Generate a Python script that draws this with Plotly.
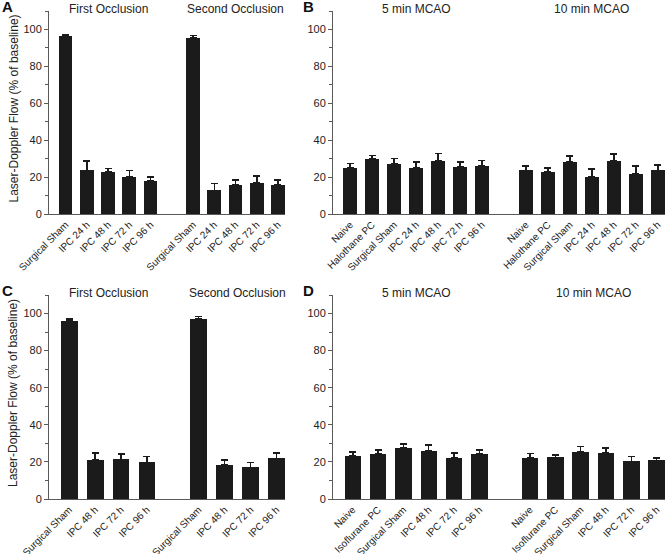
import plotly.graph_objects as go

# ---------------- data ----------------
occl_labels_A = ["Surgical Sham", "IPC 24 h", "IPC 48 h", "IPC 72 h", "IPC 96 h"]
A_first = [96.4, 23.6, 22.7, 20.3, 18.0]
A_first_err = [0.9, 5.0, 1.9, 3.4, 2.0]
A_second = [95.3, 12.8, 15.8, 16.9, 15.6]
A_second_err = [1.5, 3.6, 2.5, 3.6, 2.7]

mcao_labels_B = ["Naive", "Halothane PC", "Surgical Sham", "IPC 24 h", "IPC 48 h", "IPC 72 h", "IPC 96 h"]
B_5min = [25.0, 29.7, 27.0, 24.8, 28.6, 25.4, 25.9]
B_5min_err = [2.5, 2.1, 3.2, 3.3, 4.3, 2.7, 3.2]
B_10min = [23.7, 23.0, 28.4, 20.3, 28.6, 21.9, 23.7]
B_10min_err = [2.4, 1.8, 2.9, 4.0, 3.8, 4.2, 2.9]

occl_labels_C = ["Surgical Sham", "IPC 48 h", "IPC 72 h", "IPC 96 h"]
C_first = [96.0, 21.0, 21.4, 19.8]
C_first_err = [1.1, 3.8, 2.9, 3.0]
C_second = [97.1, 18.3, 17.1, 21.9]
C_second_err = [1.3, 2.7, 2.5, 2.9]

mcao_labels_D = ["Naive", "Isoflurane PC", "Surgical Sham", "IPC 48 h", "IPC 72 h", "IPC 96 h"]
D_5min = [23.4, 24.5, 27.7, 26.1, 22.1, 24.5]
D_5min_err = [2.0, 1.8, 2.0, 3.0, 2.7, 2.0]
D_10min = [22.2, 22.4, 25.3, 24.8, 20.3, 20.8]
D_10min_err = [2.4, 1.3, 2.9, 2.7, 2.5, 1.3]

group_titles_A = ["First Occlusion", "Second Occlusion"]
group_titles_B = ["5 min MCAO", "10 min MCAO"]
y_ticks = [0, 20, 40, 60, 80, 100]
y_title = "Laser-Doppler Flow (% of baseline)"

# ---------------- figure ----------------
W, H = 667, 554
BAR = "#1b1b1b"
AXC = "#5a5a5a"
FONT = "Liberation Sans, Arial, sans-serif"

fig = go.Figure()

panels = [
    ("A", occl_labels_A, A_first, A_first_err, A_second, A_second_err, group_titles_A,
     (49, 285), (11, 214), (7, 6), True),
    ("B", mcao_labels_B, B_5min, B_5min_err, B_10min, B_10min_err, group_titles_B,
     (333, 665), (11, 214), (308, 6), False),
    ("C", occl_labels_C, C_first, C_first_err, C_second, C_second_err, group_titles_A,
     (49, 285), (295, 499), (7, 290), True),
    ("D", mcao_labels_D, D_5min, D_5min_err, D_10min, D_10min_err, group_titles_B,
     (333, 665), (295, 499), (308, 290), False),
]

annotations = []
for i, (name, labels, v1, e1, v2, e2, titles, xd, yd, lpos, ytitle) in enumerate(panels):
    n = len(labels)
    pos1 = list(range(n))
    pos2 = [n + 1 + k for k in range(n)]
    xs = pos1 + pos2
    ys = list(v1) + list(v2)
    errs = list(e1) + list(e2)
    ax = "" if i == 0 else str(i + 1)
    fig.add_trace(go.Bar(
        x=xs, y=ys, width=0.65,
        marker=dict(color=BAR, line=dict(width=0)),
        error_y=dict(type="data", symmetric=False, array=errs,
                     arrayminus=[0] * len(errs), color=BAR, thickness=1.5, width=3.5),
        xaxis="x" + ax, yaxis="y" + ax, showlegend=False, hoverinfo="skip",
    ))
    xdom = [xd[0] / W, xd[1] / W]
    ydom = [1 - yd[1] / H, 1 - yd[0] / H]
    fig.layout["xaxis" + ax] = dict(
        domain=xdom, anchor="y" + ax, range=[-0.78, 2 * n + 0.33],
        tickvals=xs, ticktext=labels + labels, tickangle=-45,
        showline=True, linecolor=AXC, linewidth=1, ticks="",
        showgrid=False, zeroline=False, automargin=False,
        tickfont=dict(family=FONT, size=10, color="#222"),
    )
    fig.layout["yaxis" + ax] = dict(
        domain=ydom, anchor="x" + ax, range=[0, 110],
        tickvals=y_ticks, showline=True, linecolor=AXC, linewidth=1,
        ticks="outside", ticklen=4, tickcolor=AXC, tickwidth=1,
        minor=dict(dtick=10, tick0=0, ticks="outside", ticklen=3, tickcolor=AXC, tickwidth=1),
        showgrid=False, zeroline=False, automargin=False,
        tickfont=dict(family=FONT, size=11, color="#222"),
    )
    for g, t in enumerate(titles):
        cx = (n - 1) / 2 + g * (n + 1)
        annotations.append(dict(
            text=t, x=cx, xref="x" + ax, y=1 - (yd[0] - 2) / H, yref="paper",
            showarrow=False, xanchor="center", yanchor="middle",
            font=dict(family=FONT, size=12, color="#222"),
        ))
    annotations.append(dict(
        text="<b>%s</b>" % name, x=lpos[0] / W, y=1 - lpos[1] / H,
        xref="paper", yref="paper", showarrow=False, xanchor="center", yanchor="middle",
        font=dict(family=FONT, size=15, color="#111"),
    ))
    if ytitle:
        annotations.append(dict(
            text=y_title, x=13 / W, y=1 - ((yd[0] + yd[1]) / 2 - 4) / H,
            xref="paper", yref="paper", showarrow=False, textangle=-90,
            xanchor="center", yanchor="middle",
            font=dict(family=FONT, size=12, color="#222"),
        ))

fig.update_layout(
    width=W, height=H, autosize=False,
    margin=dict(l=0, r=0, t=0, b=0),
    paper_bgcolor="white", plot_bgcolor="white",
    annotations=annotations, bargap=0, hovermode=False,
)

fig.write_html("out.html", config={"displayModeBar": False, "staticPlot": True},
               post_script="document.body.style.margin='0';document.body.style.overflow='hidden';")
